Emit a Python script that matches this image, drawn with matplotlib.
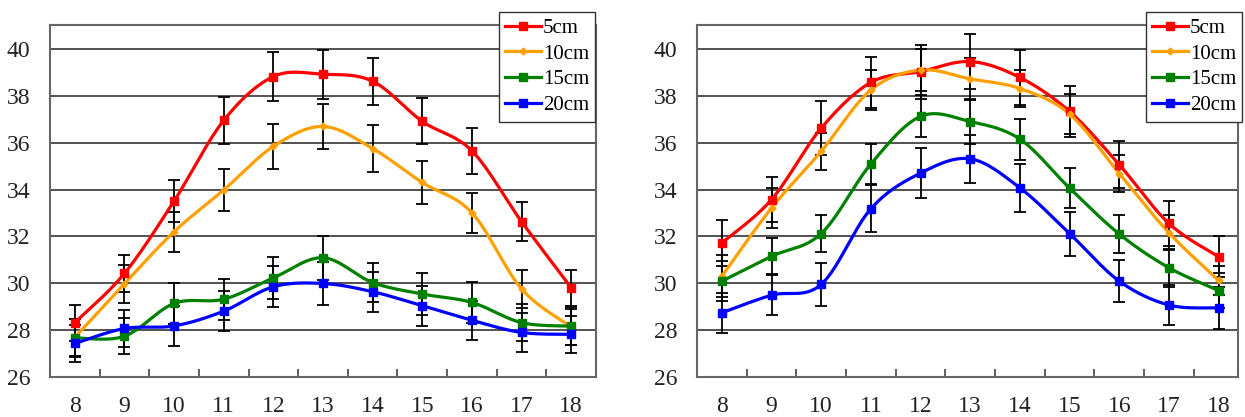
import numpy as np
from matplotlib import pyplot as plt

plt.rcParams['font.family'] = ['Liberation Serif', 'DejaVu Serif']

#
# Data (hour of day vs soil temperature)
#
hours = [8, 9, 10, 11, 12, 13, 14, 15, 16, 17, 18]
labels = ['5cm', '10cm', '15cm', '20cm']

# left panel
left_5 = [28.32, 30.42, 33.51, 36.95, 38.82, 38.92, 38.62, 36.91, 35.65, 32.63, 29.81]
left_10 = [27.69, 29.98, 32.20, 33.98, 35.84, 36.69, 35.75, 34.30, 33.01, 29.76, 28.14]
left_15 = [27.67, 27.74, 29.14, 29.32, 30.23, 31.09, 30.03, 29.54, 29.18, 28.32, 28.17]
left_20 = [27.43, 28.07, 28.18, 28.81, 29.85, 29.99, 29.64, 29.04, 28.42, 27.90, 27.82]
left_err_5 = [0.77, 0.80, 0.90, 1.00, 1.04, 1.04, 1.00, 0.98, 0.97, 0.83, 0.77]
left_err_10 = [0.80, 0.82, 0.85, 0.90, 0.95, 0.97, 1.00, 0.92, 0.86, 0.80, 0.78]
left_err_15 = [0.80, 0.77, 0.89, 0.88, 0.90, 0.94, 0.82, 0.88, 0.88, 0.80, 0.80]
left_err_20 = [0.80, 0.80, 0.85, 0.85, 0.88, 0.90, 0.85, 0.85, 0.84, 0.82, 0.80]

# right panel
right_5 = [31.72, 33.57, 36.62, 38.57, 39.03, 39.46, 38.78, 37.33, 35.06, 32.55, 31.13]
right_10 = [30.30, 33.21, 35.63, 38.25, 39.10, 38.72, 38.31, 37.22, 34.68, 32.15, 30.12]
right_15 = [30.09, 31.15, 32.12, 35.09, 37.12, 36.90, 36.15, 34.06, 32.10, 30.66, 29.69]
right_20 = [28.74, 29.49, 29.95, 33.18, 34.70, 35.31, 34.07, 32.12, 30.09, 29.07, 28.95]
right_err_5 = [0.97, 0.95, 1.14, 1.10, 1.15, 1.16, 1.18, 1.07, 1.00, 0.98, 0.87]
right_err_10 = [0.90, 0.85, 0.80, 0.85, 0.90, 0.90, 0.80, 0.85, 0.80, 0.75, 0.60]
right_err_15 = [0.85, 0.76, 0.80, 0.87, 0.90, 0.95, 0.87, 0.85, 0.82, 0.80, 0.75]
right_err_20 = [0.85, 0.86, 0.92, 1.00, 1.07, 1.03, 1.04, 0.94, 0.90, 0.86, 0.89]

colors = ['#ff0000', '#ffa000', '#008000', '#0000ff']
markers = ['s', 'D', 's', 's']
msizes = [6, 3.5, 6, 6]


def smooth(x, y, n=30):
    # Excel-like smoothed line (cubic bezier, catmull-rom tangents)
    x = np.asarray(x, float)
    y = np.asarray(y, float)
    px = np.concatenate([[x[0]], x, [x[-1]]])
    py = np.concatenate([[y[0]], y, [y[-1]]])
    t = np.linspace(0, 1, n)
    xs, ys = [], []
    for i in range(1, len(px) - 2):
        p0 = np.array([px[i], py[i]])
        p3 = np.array([px[i + 1], py[i + 1]])
        p1 = p0 + (p3 - np.array([px[i - 1], py[i - 1]])) / 6
        p2 = p3 - (np.array([px[i + 2], py[i + 2]]) - p0) / 6
        b = ((1 - t) ** 3)[:, None] * p0 + (3 * (1 - t) ** 2 * t)[:, None] * p1 \
            + (3 * (1 - t) * t ** 2)[:, None] * p2 + (t ** 3)[:, None] * p3
        xs.append(b[:, 0])
        ys.append(b[:, 1])
    return np.concatenate(xs), np.concatenate(ys)


def draw_panel(ax, series, errs, xmax, legend_x):
    for k, (y, e) in enumerate(zip(series, errs)):
        ax.errorbar(hours, y, yerr=e, fmt='none', ecolor='black',
                    elinewidth=1.3, capsize=4, capthick=1.3, zorder=2)
    for k, y in enumerate(series):
        sx, sy = smooth(hours, y)
        ax.plot(sx, sy, color=colors[k], lw=2.3, zorder=3)
        ax.plot(hours, y, ls='none', marker=markers[k], ms=msizes[k],
                color=colors[k], zorder=4)
    handles = [plt.Line2D([], [], color=colors[k], lw=2.3, marker=markers[k],
                          ms=msizes[k]) for k in range(4)]
    ax.legend(handles, labels, loc='upper left',
              bbox_to_anchor=(legend_x, 1 - 12 / 417),
              bbox_transform=fig.transFigure, fontsize=15, frameon=True,
              fancybox=False, edgecolor='#333333', framealpha=1,
              handlelength=1.7, handletextpad=0.1, labelspacing=0.3,
              borderpad=0.3, borderaxespad=0, markerscale=1)

    ax.set_xlim(7.5, xmax)
    ax.set_ylim(26, 41.02)
    ax.set_yticks(range(26, 41, 2))
    ax.set_xticks(hours)
    ax.set_xticks(np.arange(8.5, 18, 1), minor=True)
    ax.tick_params(axis='both', which='major', length=0, labelsize=17)
    ax.tick_params(axis='x', which='major', pad=14)
    ax.tick_params(axis='y', which='major', pad=14)
    ax.tick_params(axis='x', which='minor', direction='in', length=6,
                   width=1.2, color='#444444')
    for yy in range(28, 41, 2):
        ax.axhline(yy, color='#222222', lw=1.1, zorder=1)
    for s in ax.spines.values():
        s.set_color('#666666')
        s.set_linewidth(1.5)
    ax.tick_params(labelcolor='#222222')


fig = plt.figure(figsize=(12.45, 4.17), dpi=100)
ax1 = fig.add_axes([50 / 1245, 1 - 377 / 417, 546 / 1245, 352 / 417])
ax2 = fig.add_axes([697 / 1245, 1 - 377 / 417, 541 / 1245, 352 / 417])

draw_panel(ax1, [left_5, left_10, left_15, left_20],
           [left_err_5, left_err_10, left_err_15, left_err_20], 18.5, 499 / 1245)
draw_panel(ax2, [right_5, right_10, right_15, right_20],
           [right_err_5, right_err_10, right_err_15, right_err_20], 18.39, 1146 / 1245)

plt.savefig('out.png', dpi=100)
